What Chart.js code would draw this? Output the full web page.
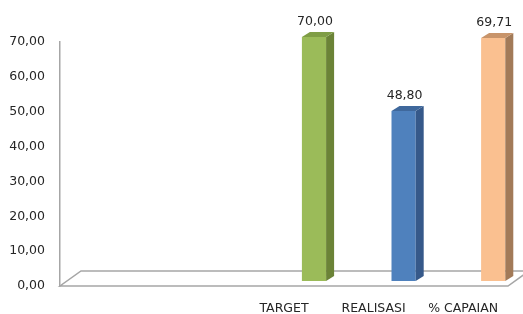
<!DOCTYPE html>
<html>
<head>
<meta charset="utf-8">
<script src="https://cdn.jsdelivr.net/npm/chart.js@4/dist/chart.umd.min.js"></script>
<style>
  html, body { margin: 0; padding: 0; background: #fff; }
  #wrap { width: 523px; height: 314px; }
</style>
</head>
<body>
<div id="wrap"><canvas id="chart"></canvas></div>
<script>
const categories = ['', '', 'TARGET', 'REALISASI', '% CAPAIAN'];
const values = [null, null, 70.00, 48.80, 69.71];
const yTicks = [0, 10, 20, 30, 40, 50, 60, 70];

const front = ['#9bbb59', '#9bbb59', '#9bbb59', '#4f81bd', '#fac090'];
const side = ['#6b8337', '#6b8337', '#6b8337', '#36598a', '#a27a58'];
const top_ = ['#7f9d45', '#7f9d45', '#7f9d45', '#3f689c', '#c8946a'];

const fmt = (v) => v.toFixed(2).replace('.', ',');
const font = 'DejaVu Sans';

// depth of the floor and of each bar
const floorDX = 21, floorDY = 15;
const barDX = 8, barDY = 5;
// bars sit a bit behind the category label row
const shiftX = 30, shiftY = -5;

const threeD = {
    id: 'threeD',
    beforeDatasetsDraw(chart) {
        const { ctx, chartArea: a } = chart;
        ctx.save();
        ctx.strokeStyle = '#a6a6a6';
        ctx.lineWidth = 1.5;
        ctx.beginPath();
        ctx.moveTo(a.left, a.bottom);
        ctx.lineTo(a.right, a.bottom);
        ctx.lineTo(a.right + floorDX, a.bottom - floorDY);
        ctx.lineTo(a.left + floorDX, a.bottom - floorDY);
        ctx.closePath();
        ctx.stroke();
        ctx.restore();
        ctx.save();
        ctx.translate(shiftX, shiftY);
    },
    afterDatasetsDraw(chart) {
        const { ctx } = chart;
        const meta = chart.getDatasetMeta(0);
        meta.data.forEach((bar, i) => {
            if (values[i] == null) return;
            const l = bar.x - bar.width / 2;
            const r = bar.x + bar.width / 2;
            const t = bar.y;
            const b = bar.base;
            ctx.fillStyle = side[i];
            ctx.beginPath();
            ctx.moveTo(r, t);
            ctx.lineTo(r + barDX, t - barDY);
            ctx.lineTo(r + barDX, b - barDY);
            ctx.lineTo(r, b);
            ctx.closePath();
            ctx.fill();
            ctx.fillStyle = top_[i];
            ctx.beginPath();
            ctx.moveTo(l, t);
            ctx.lineTo(l + barDX, t - barDY);
            ctx.lineTo(r + barDX, t - barDY);
            ctx.lineTo(r, t);
            ctx.closePath();
            ctx.fill();
            ctx.fillStyle = '#262626';
            ctx.font = '12.5px "' + font + '"';
            ctx.textAlign = 'center';
            ctx.textBaseline = 'bottom';
            ctx.fillText(fmt(values[i]), bar.x + 1, t - 9);
        });
        ctx.restore();
    },
};

new Chart(document.getElementById('chart'), {
    type: 'bar',
    data: {
        labels: categories,
        datasets: [
            {
                data: values,
                backgroundColor: front,
                borderWidth: 0,
                categoryPercentage: 1,
                barPercentage: 0.27,
            },
        ],
    },
    options: {
        responsive: true,
        maintainAspectRatio: false,
        animation: false,
        events: [],
        layout: { padding: { top: 42, right: 15, left: 0, bottom: 0 } },
        plugins: { legend: { display: false }, tooltip: { enabled: false } },
        scales: {
            x: {
                grid: { display: false, drawTicks: false },
                border: { display: false },
                ticks: { color: '#262626', padding: 15, font: { family: font, size: 12.5 }, maxRotation: 0 },
                afterFit: (s) => { s.height = 28; },
            },
            y: {
                min: 0,
                max: 70,
                afterBuildTicks: (s) => { s.ticks = yTicks.map((v) => ({ value: v })); },
                grid: { display: false, drawTicks: false },
                border: { display: true, color: '#a6a6a6', width: 1.5 },
                ticks: { color: '#262626', padding: 15, font: { family: font, size: 12.5 }, callback: (v) => fmt(v) },
                afterFit: (s) => { s.width = 60; },
            },
        },
    },
    plugins: [threeD],
});
</script>
</body>
</html>
